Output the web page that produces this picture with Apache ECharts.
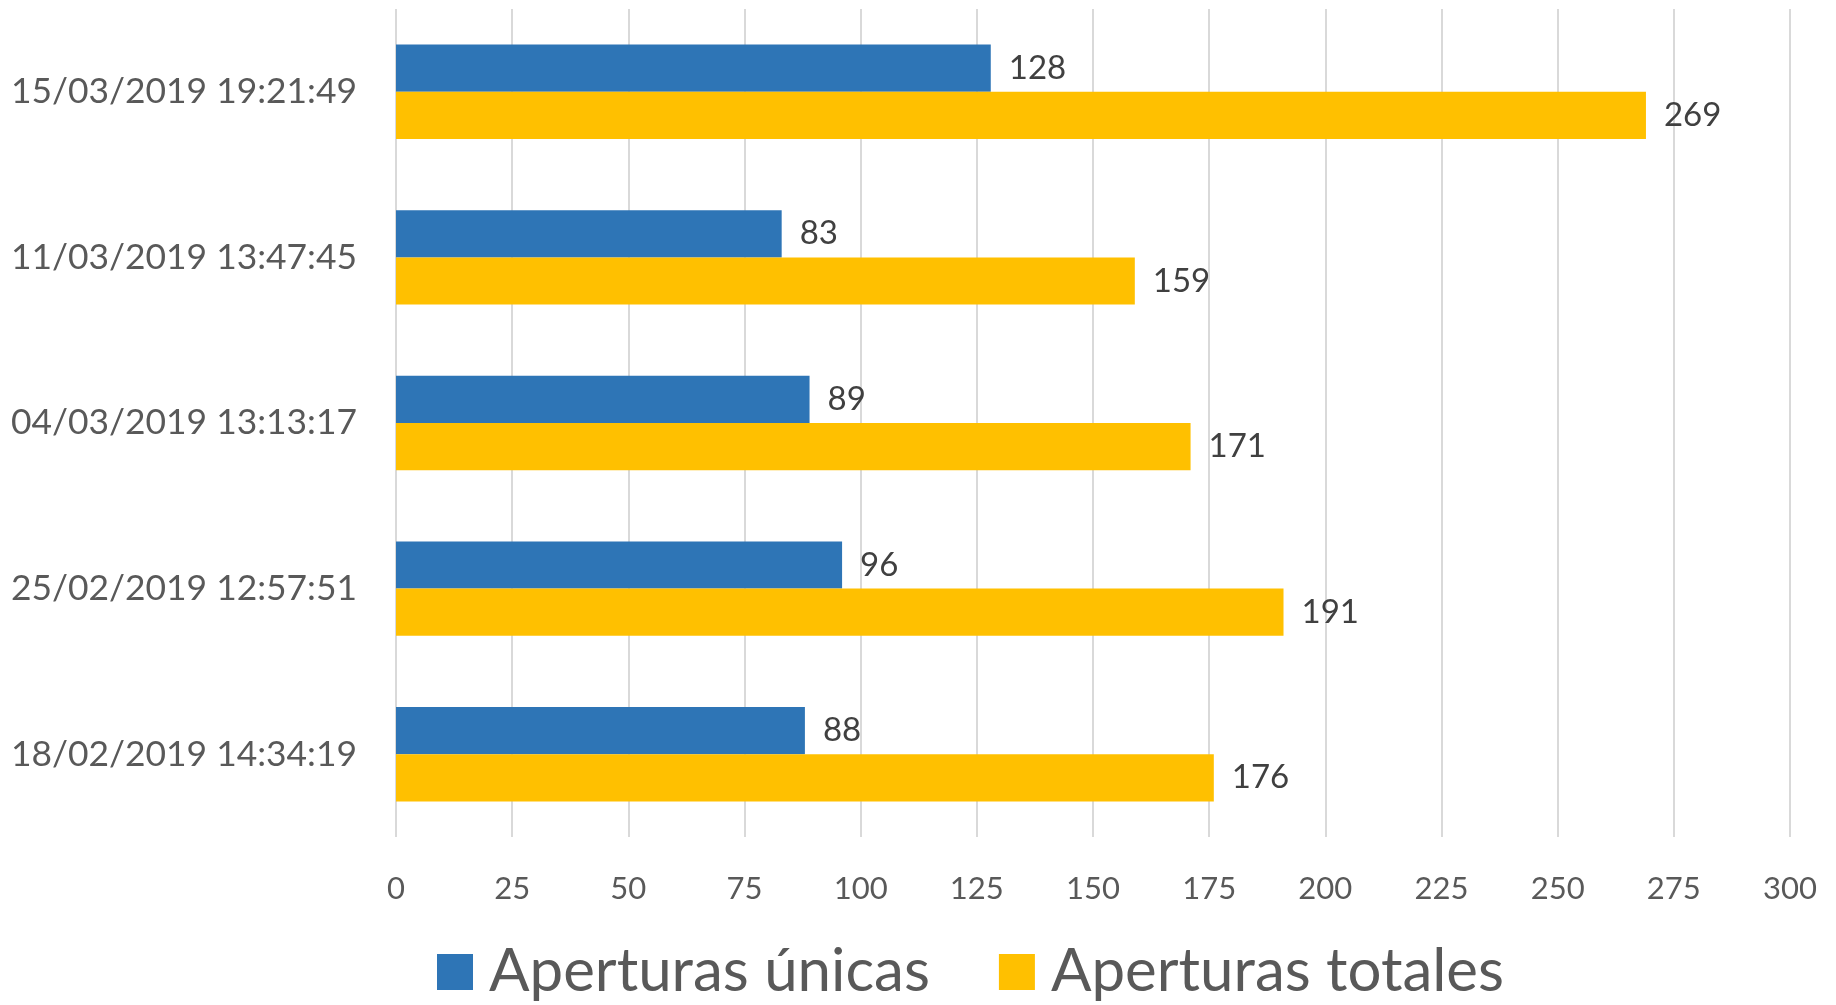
<!DOCTYPE html>
<html>
<head>
<meta charset="utf-8">
<script src="https://cdn.jsdelivr.net/npm/echarts@6/dist/echarts.min.js"></script>
<style>
  html, body { margin: 0; padding: 0; background: #fff; }
  #chart { width: 1836px; height: 1005px; }
</style>
</head>
<body>
<div id="chart"></div>
<script>
// categories, top to bottom
var fechas = ['15/03/2019 19:21:49', '11/03/2019 13:47:45', '04/03/2019 13:13:17', '25/02/2019 12:57:51', '18/02/2019 14:34:19'];
var unicas = [128, 83, 89, 96, 88];
var totales = [269, 159, 171, 191, 176];
var xTicks = [0, 300, 25];

var chart = echarts.init(document.getElementById('chart'));
chart.setOption({
  animation: false,
  textStyle: { fontFamily: 'Lato' },
  legend: {
    data: ['Aperturas únicas', 'Aperturas totales'],
    left: 432,
    top: 937,
    itemWidth: 36,
    itemHeight: 36,
    itemGap: 69,
    icon: 'rect',
    textStyle: { fontSize: 60, color: '#595959', padding: [0, 0, 0, 11] }
  },
  grid: {
    left: 396,
    right: 46,
    top: 9,
    bottom: 168
  },
  xAxis: {
    type: 'value',
    min: xTicks[0],
    max: xTicks[1],
    interval: xTicks[2],
    axisLine: { show: false },
    axisTick: { show: false },
    splitLine: { lineStyle: { color: '#d9d9d9', width: 2 } },
    axisLabel: { fontSize: 31, color: '#595959', margin: 36 }
  },
  yAxis: {
    type: 'category',
    inverse: true,
    data: fechas,
    axisLine: { show: false },
    axisTick: { show: false },
    axisLabel: { fontSize: 35.4, color: '#595959', margin: 39 }
  },
  series: [
    {
      name: 'Aperturas únicas',
      type: 'bar',
      data: unicas,
      barGap: '0%',
      barCategoryGap: '43%',
      itemStyle: { color: '#2e75b6' },
      label: { show: true, position: 'right', distance: 18, fontSize: 33, color: '#404040' }
    },
    {
      name: 'Aperturas totales',
      type: 'bar',
      data: totales,
      barGap: '0%',
      barCategoryGap: '43%',
      itemStyle: { color: '#ffc000' },
      label: { show: true, position: 'right', distance: 18, fontSize: 33, color: '#404040' }
    }
  ]
});
</script>
</body>
</html>
